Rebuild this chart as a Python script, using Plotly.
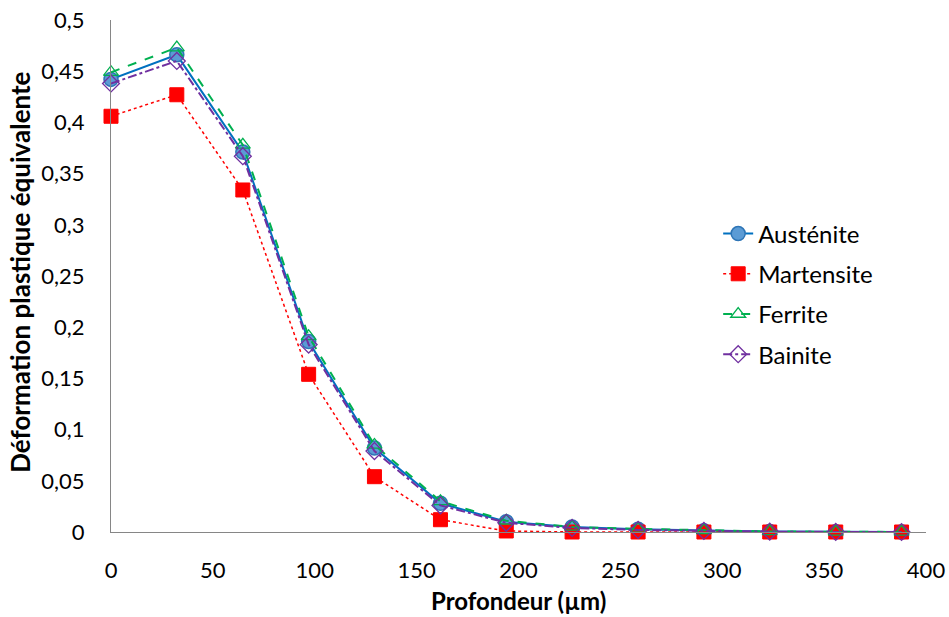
import plotly.graph_objects as go

profondeur = [0, 32.3, 64.7, 97, 129.3, 161.7, 194, 226.3, 258.7, 291, 323.3, 355.7, 388]
austenite = [0.442, 0.466, 0.371, 0.186, 0.082, 0.028, 0.010, 0.005, 0.0026, 0.0013, 0.0005, 0.0002, 0.0001]
martensite = [0.406, 0.427, 0.334, 0.154, 0.054, 0.012, 0.001, 0.0, 0.0, 0.0, 0.0, 0.0, 0.0]
ferrite = [0.449, 0.473, 0.378, 0.191, 0.085, 0.030, 0.011, 0.005, 0.003, 0.0015, 0.0006, 0.0002, 0.0001]
bainite = [0.438, 0.460, 0.367, 0.183, 0.079, 0.026, 0.009, 0.004, 0.002, 0.001, 0.0004, 0.0001, 0.0]

x_ticks = [0, 50, 100, 150, 200, 250, 300, 350, 400]
x_labels = ["0", "50", "100", "150", "200", "250", "300", "350", "400"]
y_ticks = [0, 0.05, 0.1, 0.15, 0.2, 0.25, 0.3, 0.35, 0.4, 0.45, 0.5]
y_labels = ["0", "0,05", "0,1", "0,15", "0,2", "0,25", "0,3", "0,35", "0,4", "0,45", "0,5"]

FONT = "Lato, Carlito, Calibri, sans-serif"

fig = go.Figure()
fig.add_trace(go.Scatter(
    x=profondeur, y=austenite, name="Austénite", mode="lines+markers", legendgroup="a",
    cliponaxis=False,
    line=dict(color="#0070C0", width=2, dash="solid"),
    marker=dict(symbol="circle", size=14, color="#5B9BD5", line=dict(color="#2E75B6", width=1.5))))
fig.add_trace(go.Scatter(
    x=profondeur, y=martensite, name="Martensite", mode="lines+markers", legendgroup="m",
    cliponaxis=False,
    line=dict(color="#FF0000", width=1.5, dash="dot"),
    marker=dict(symbol="square", size=14, color="#FF0000", line=dict(color="#FF0000", width=1))))
fig.add_trace(go.Scatter(
    x=profondeur, y=ferrite, name="Ferrite", mode="lines+markers", legendgroup="f",
    cliponaxis=False,
    line=dict(color="#00B050", width=2, dash="dash"),
    marker=dict(symbol="triangle-up-open", size=13, color="#00B050", line=dict(color="#00B050", width=1.3))))
fig.add_trace(go.Scatter(
    x=profondeur, y=bainite, name="Bainite", mode="lines+markers", legendgroup="b",
    cliponaxis=False,
    line=dict(color="#7030A0", width=2, dash="dashdot"),
    marker=dict(symbol="diamond-open", size=13, color="#7030A0", line=dict(color="#7030A0", width=1.3))))

fig.update_layout(
    width=949, height=617,
    paper_bgcolor="white", plot_bgcolor="white",
    margin=dict(l=111, r=23, t=20, b=85),
    font=dict(family=FONT, size=22, color="#000000"),
    showlegend=True,
    legend=dict(x=0.745, y=0.626, xanchor="left", yanchor="top",
                font=dict(family=FONT, size=24, color="#000000"),
                tracegroupgap=6, bgcolor="rgba(0,0,0,0)"),
    xaxis=dict(range=[0, 400], tickvals=x_ticks, ticktext=x_labels, automargin=False,
               showgrid=False, zeroline=False, showline=True, linecolor="#868686", linewidth=1.3,
               ticks="", ticklabelstandoff=18, tickfont=dict(size=22)),
    yaxis=dict(range=[0, 0.5], tickvals=y_ticks, ticktext=y_labels, automargin=False,
               showgrid=False, zeroline=False, showline=True, linecolor="#868686", linewidth=1.3,
               ticks="", ticklabelstandoff=21, tickfont=dict(size=22)),
    annotations=[
        dict(text="<b>Profondeur (µm)</b>", xref="paper", yref="paper", x=0.5, y=-0.133,
             xanchor="center", yanchor="middle", showarrow=False,
             font=dict(family=FONT, size=24, color="#000000")),
        dict(text="<b>Déformation plastique équivalente</b>", xref="paper", yref="paper",
             x=-0.1117, y=0.508, xanchor="center", yanchor="middle", textangle=-90, showarrow=False,
             font=dict(family=FONT, size=26, color="#000000")),
    ],
)

fig.write_html("out.html", config={"displayModeBar": False},
               post_script="document.body.style.margin='0';document.body.style.padding='0';document.body.style.overflow='hidden';")
